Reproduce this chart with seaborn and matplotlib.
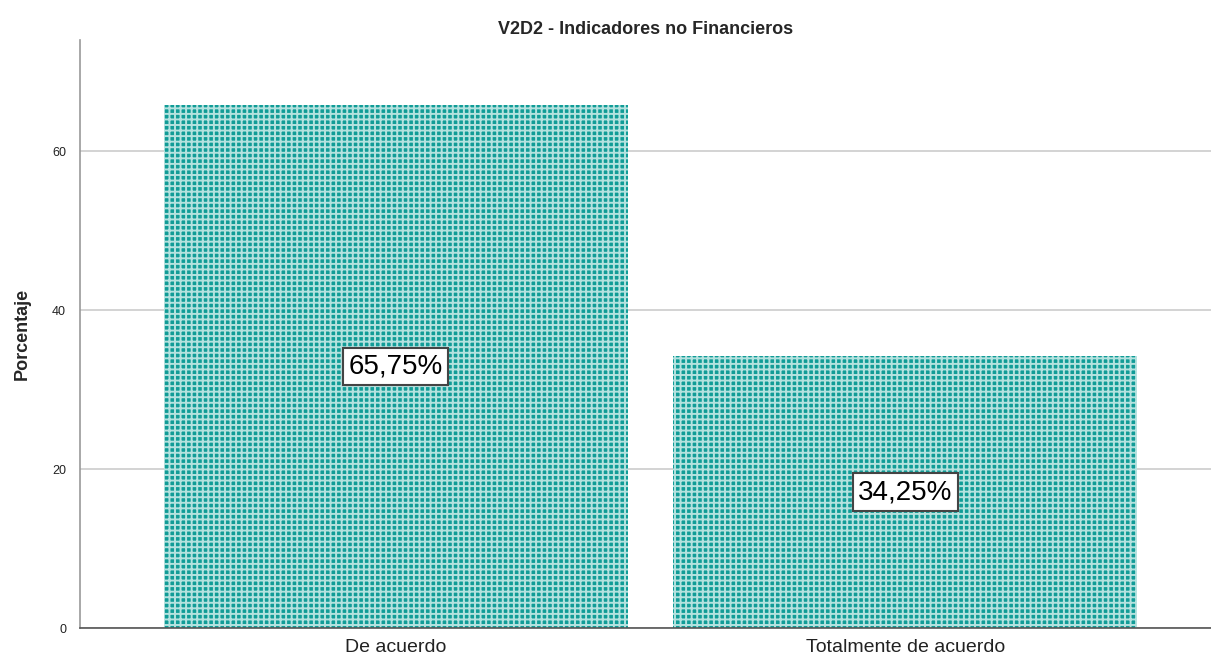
import pandas as pd
import seaborn as sns
import matplotlib.pyplot as plt

categorias = ["De acuerdo", "Totalmente de acuerdo"]
porcentajes = [65.75, 34.25]
etiquetas = ["65,75%", "34,25%"]

df = pd.DataFrame({"categoria": categorias, "porcentaje": porcentajes})

sns.set_style("white")
plt.rcParams['font.family'] = ['Liberation Sans', 'DejaVu Sans']
plt.rcParams['hatch.linewidth'] = 1.4

fig = plt.figure(figsize=(12.11, 6.62), dpi=100)
ax = fig.add_axes([0.066, 0.051, 0.934, 0.889])

sns.barplot(x="categoria", y="porcentaje", data=df, color="#119c97",
            width=0.91, saturation=1, ax=ax)
for p in ax.patches:
    p.set_hatch("+++")
    p.set_edgecolor("#b5e2df")
    p.set_linewidth(0)

for i, (v, t) in enumerate(zip(porcentajes, etiquetas)):
    ax.text(i, v / 2, t, ha="center", va="center", fontsize=20, color="black",
            bbox=dict(boxstyle="square,pad=0.2", fc="white", ec="#444444", lw=1.5))

ax.set_ylim(0, 74)
ax.set_xlim(-0.62, 1.6)
ax.set_yticks([0, 20, 40, 60])
ax.yaxis.grid(True, color="#cccccc", lw=1.2)
ax.set_axisbelow(True)
ax.tick_params(axis="y", labelsize=9, length=0, pad=10, colors="#222222")
ax.tick_params(axis="x", labelsize=14, length=0, pad=8, colors="#222222")
ax.set_xlabel("")
ax.set_ylabel("Porcentaje", fontsize=13, fontweight="bold", labelpad=15)
ax.set_title("V2D2 - Indicadores no Financieros", fontsize=13, fontweight="bold", pad=4)
for s in ["top", "right"]:
    ax.spines[s].set_visible(False)
ax.spines["left"].set_color("#999999")
ax.spines["bottom"].set_color("#555555")
ax.spines["left"].set_linewidth(1.2)
ax.spines["bottom"].set_linewidth(1.2)

plt.savefig("out.png", dpi=100)
